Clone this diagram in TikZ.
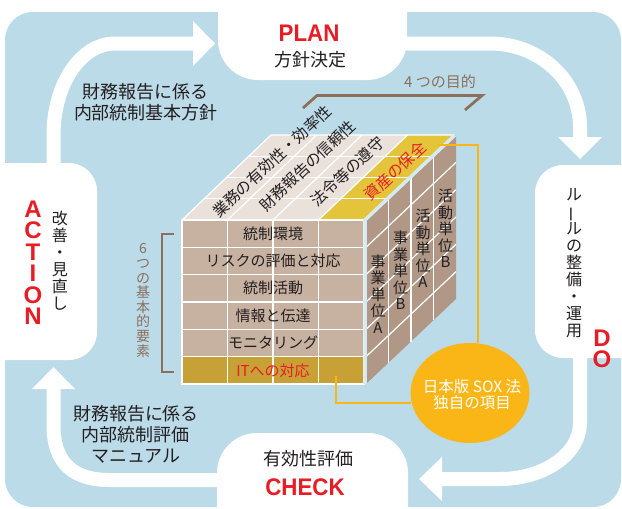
\documentclass[tikz,border=0pt]{standalone}
\usepackage{fontspec}
\usepackage{graphicx}
\usetikzlibrary{shapes.geometric}
\newfontfamily\jp{Noto Sans CJK JP}
\newfontfamily\lat{Liberation Sans}
\definecolor{bgblue}{RGB}{187,219,233}
\definecolor{pred}{RGB}{232,28,36}
\definecolor{txt}{RGB}{35,31,32}
\definecolor{brn}{RGB}{140,112,92}
\definecolor{frontc}{RGB}{199,177,161}
\definecolor{sidec}{RGB}{176,151,134}
\definecolor{topc}{RGB}{234,225,219}
\definecolor{ylw}{RGB}{228,196,58}
\definecolor{mus}{RGB}{200,161,54}
\definecolor{org}{RGB}{250,182,22}
\definecolor{edgeb}{RGB}{214,234,243}
\begin{document}
\begin{tikzpicture}[x=1pt,y=-1pt,
  band/.style={draw=white, line width=14pt},
  wbox/.style={fill=white},
  gridl/.style={draw=white, line width=1.2pt},
  jt/.style={font=\jp\fontsize{18}{21}\selectfont, text=txt, align=center, inner sep=0pt},
  ft/.style={font=\jp\fontsize{15}{18}\selectfont, text=txt, inner sep=0pt},
  tt/.style={font=\jp\fontsize{15.5}{18}\selectfont, text=txt, inner sep=0pt, rotate=43},
  rt/.style={font=\jp\fontsize{15}{16.5}\selectfont, text=txt, align=center, inner sep=0pt},
  vt/.style={font=\jp\fontsize{16}{17}\selectfont, text=txt, align=center, inner sep=0pt},
  big/.style={font=\lat\bfseries\fontsize{24}{21.5}\selectfont, text=pred, align=center, inner sep=0pt},
  brt/.style={font=\jp\fontsize{14}{14.6}\selectfont, text=brn, align=center, inner sep=0pt},
  brk/.style={draw=brn, line width=2.8pt},
  orl/.style={draw=org, line width=2.8pt}
]
\useasboundingbox (0,0) rectangle (622,509);
% background
\fill[bgblue, rounded corners=28] (5,12) rectangle (621,507);
% cycle bands
\draw[band] (53.5,175) -- (53.5,135) .. controls (53.5,84) and (81,43.5) .. (115,43.5) -- (196,43.5);
\fill[white] (193,21) -- (215,43.5) -- (193,66) -- cycle;
\draw[band] (400,43.5) -- (490,43.5) .. controls (540,43.5) and (580,81) .. (580,127) -- (580,140);
\fill[white] (558,137) -- (580,159) -- (602,137) -- cycle;
\draw[band] (580,350) -- (580,423) .. controls (580,454) and (544,479) .. (500,479) -- (439,479);
\fill[white] (442,457) -- (419,479) -- (442,501) -- cycle;
\draw[band] (225,480) -- (110,480) .. controls (75,480) and (53.5,465) .. (53.5,425) -- (53.5,386);
\fill[white] (32,389) -- (53.5,367) -- (75,389) -- cycle;
% white boxes
\fill[wbox, rounded corners=40] (218,-60) rectangle (407,80);
\fill[wbox, rounded corners=40] (217,433) rectangle (408,570);
\fill[wbox, rounded corners=28] (-60,163) rectangle (97,360);
\fill[wbox, rounded corners=28] (535,165) rectangle (680,358);
% box texts
\node[big] (plan) at (309,33.5) {\scalebox{0.93}[1]{PLAN}};
\node[jt] (plantxt) at (310,60) {方針決定};
\node[jt] (checktxt) at (308,459) {有効性評価};
\node[big] (check) at (305,487) {\scalebox{0.93}[1]{CHECK}};
\node[big] (action) at (33,262.5) {A\\C\\T\\I\\O\\N};
\node[vt] (acttxt) at (60,261) {改\\善\\・\\見\\直\\し};
\node[vt] (dotxt) at (574,263.5) {ル\\\rotatebox[origin=c]{90}{ー}\\ル\\の\\整\\備\\・\\運\\用};
\node[big] (do) at (602,349) {D\\O};
% side texts
\node[jt] (policy) at (146,102.5) {財務報告に係る\\内部統制基本方針};
\node[jt] (manual) at (136,434) {財務報告に係る\\内部統制評価\\マニュアル};
% brackets
\node[font=\jp\fontsize{15}{18}\selectfont, text=brn, inner sep=0pt] (four) at (440,82) {4 つの目的};
\draw[brk] (303,108) -- (317,95.5) -- (482,95.5) -- (465,110);
\node[brt] (six) at (143,300.5) {6\\つ\\の\\基\\本\\的\\要\\素};
\draw[brk] (174,234) -- (162,234) -- (162,372) -- (174,372);
% cube: faces
\fill[frontc] (182,220) rectangle (364,384);
\fill[mus] (182,356.67) rectangle (364,384);
\fill[topc] (182,220) -- (364,220) -- (453,135) -- (271,135) -- cycle;
\fill[ylw] (318.5,220) -- (364,220) -- (453,135) -- (407.5,135) -- cycle;
\fill[sidec] (366,220) -- (456,135) -- (456,299) -- (366,384) -- cycle;
% cube: grid
\foreach \i in {1,...,5} \draw[gridl] (182,220+27.333*\i) -- (364,220+27.333*\i);
\foreach \k in {1,2,3} \draw[gridl] (182+45.5*\k,220) -- (182+45.5*\k,384);
\draw[gridl] (182,220) rectangle (364,384);
\foreach \k in {1,2,3} \draw[gridl] (182+45.5*\k,220) -- (271+45.5*\k,135);
\foreach \j in {1,2,3} \draw[gridl] (182+22.25*\j,220-21.25*\j) -- (364+22.25*\j,220-21.25*\j);
\draw[gridl] (182,220) -- (271,135) -- (453,135);
\foreach \j in {1,2,3} \draw[gridl] (366+22.5*\j,220-21.25*\j) -- (366+22.5*\j,384-21.25*\j);
\foreach \i in {1,...,5} \draw[gridl] (366,220+27.333*\i) -- (456,135+27.333*\i);
\draw[edgeb, line width=3.5pt, line join=round] (365,384) -- (365,220) -- (455,135);
% cube: front texts
\node[ft] (r1) at (273,233.7) {統制環境};
\node[ft] (r2) at (273,261) {リスクの評価と対応};
\node[ft] (r3) at (273,288.3) {統制活動};
\node[ft] (r4) at (273,315.7) {情報と伝達};
\node[ft] (r5) at (273,343) {モニタリング};
\node[ft, text=pred] (r6) at (273,370.3) {ITへの対応};
% cube: top texts
\node[tt] (p1) at (272,161) {業務の有効性・効率性};
\node[tt] (p2) at (307.5,165.5) {財務報告の信頼性};
\node[tt] (p3) at (347.5,171.5) {法令等の遵守};
\node[tt, text=pred] (p4) at (395,171) {資産の保全};
% cube: side texts
\node[rt] (u1) at (378,294) {事\\業\\単\\位\\A};
\node[rt] (u2) at (400.5,270.5) {事\\業\\単\\位\\B};
\node[rt] (u3) at (423,248.5) {活\\動\\単\\位\\A};
\node[rt] (u4) at (445.5,228.5) {活\\動\\単\\位\\B};
% SOX ellipse and connectors
\node[ellipse, fill=org, minimum width=119pt, minimum height=100pt, inner sep=0pt] (sox) at (470,393) {};
\node[font=\jp\fontsize{15.5}{16}\selectfont, text=white, align=center, inner sep=0pt] (soxtxt) at (472,395) {日本版 SOX 法\\独自の項目};
\coordinate (ta) at (438,145);
\coordinate (tb) at (478,145);
\coordinate (fa) at (336,376);
\coordinate (fb) at (336,403);
\draw[orl] (ta) -- (tb) -- (tb |- sox.north);
\draw[orl] (fa) -- (fb) -- (411,403);
\end{tikzpicture}
\end{document}
